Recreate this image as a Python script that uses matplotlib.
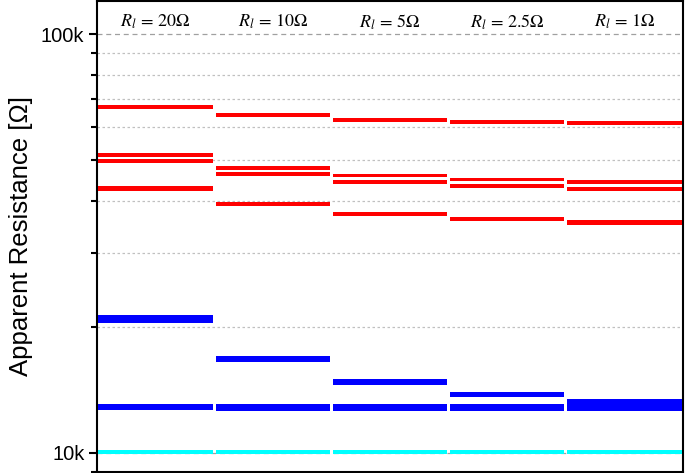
import numpy as np
import matplotlib.pyplot as plt
from matplotlib.ticker import FixedLocator, FixedFormatter, NullFormatter
from matplotlib.transforms import blended_transform_factory

plt.rcParams['font.family'] = ['Liberation Sans', 'DejaVu Sans']
plt.rcParams['mathtext.fontset'] = 'stix'

# load resistance for each column
loads = ['20', '10', '5', '2.5', '1']

# band limits (low / high) in Ohm, one value per load
red1_low = [66.1e3, 63.4e3, 61.8e3, 61.1e3, 60.6e3]
red1_high = [67.9e3, 64.9e3, 63.0e3, 62.3e3, 61.9e3]
red2_low = [50.8e3, 47.4e3, 45.5e3, 44.5e3, 43.9e3]
red2_high = [52.0e3, 48.4e3, 46.4e3, 45.4e3, 44.8e3]
red3_low = [49.2e3, 45.9e3, 43.9e3, 42.9e3, 42.3e3]
red3_high = [50.2e3, 46.8e3, 44.8e3, 43.8e3, 43.2e3]
red4_low = [42.1e3, 38.8e3, 36.8e3, 35.7e3, 35.1e3]
red4_high = [43.5e3, 39.8e3, 37.7e3, 36.5e3, 35.9e3]
blue1_low = [20.4e3, 16.5e3, 14.5e3, 13.6e3, 12.9e3]
blue1_high = [21.4e3, 17.0e3, 15.0e3, 14.0e3, 13.45e3]
blue2_low = [12.65e3, 12.6e3, 12.58e3, 12.58e3, 12.58e3]
blue2_high = [13.08e3, 13.08e3, 13.08e3, 13.08e3, 13.08e3]
cyan_low = [9.93e3, 9.93e3, 9.93e3, 9.93e3, 9.93e3]
cyan_high = [10.13e3, 10.13e3, 10.13e3, 10.13e3, 10.13e3]

bands = [
    (red1_low, red1_high, '#ff0000'),
    (red2_low, red2_high, '#ff0000'),
    (red3_low, red3_high, '#ff0000'),
    (red4_low, red4_high, '#ff0000'),
    (blue1_low, blue1_high, '#0000ff'),
    (blue2_low, blue2_high, '#0000ff'),
    (cyan_low, cyan_high, '#00ffff'),
]

fig = plt.figure(figsize=(6.85, 4.73), dpi=100)
ax = fig.add_axes([97 / 685, 1 / 473, 586 / 685, 471 / 473])

x = np.arange(len(loads))
for lo, hi, c in bands:
    lo = np.array(lo)
    hi = np.array(hi)
    ax.bar(x, hi - lo, bottom=lo, width=0.975, color=c, linewidth=0, zorder=3)

ax.set_yscale('log')
ax.set_ylim(9000, 120000)
ax.set_xlim(-0.5, len(loads) - 0.5)

ax.yaxis.set_major_locator(FixedLocator([1e4, 1e5]))
ax.yaxis.set_major_formatter(FixedFormatter(['10k', '100k']))
minors = [v * 1e3 for v in range(9, 10)] + [v * 1e4 for v in range(2, 10)]
ax.yaxis.set_minor_locator(FixedLocator(minors))
ax.yaxis.set_minor_formatter(NullFormatter())

ax.set_xticks([])
ax.tick_params(axis='y', which='major', length=6, width=1.5, labelsize=14.5, pad=3)
ax.tick_params(axis='y', which='minor', length=4, width=1.5)
for s in ax.spines.values():
    s.set_linewidth(1.5)

ax.set_axisbelow(True)
ax.yaxis.grid(True, which='major', color='#a0a0a0', linestyle=(0, (4, 3)), linewidth=0.9)
ax.yaxis.grid(True, which='minor', color='#c0c0c0', linestyle=(0, (2, 2)), linewidth=0.9)

ax.set_ylabel('Apparent Resistance [Ω]', fontsize=18.5, labelpad=6)

trans = blended_transform_factory(ax.transData, ax.transAxes)
for i, r in enumerate(loads):
    ax.text(i, 0.955, r'$R_l\,=\,' + r + r'\Omega$', transform=trans,
            ha='center', va='center', fontsize=13)

fig.savefig('out.png', dpi=100)
